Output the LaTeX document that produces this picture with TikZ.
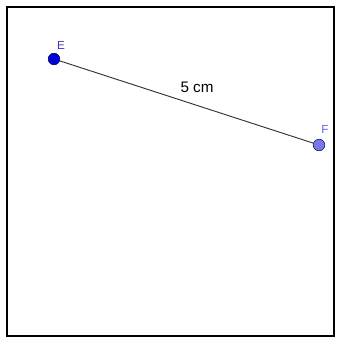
\documentclass[tikz,border=0pt]{standalone}
\usepackage{fontspec}
\setmainfont{Liberation Sans}
\usepackage{tikz,xcolor}
\definecolor{ptdark}{RGB}{0,0,220}
\definecolor{ptlight}{RGB}{120,120,235}
\definecolor{lblblue}{RGB}{60,60,200}
\begin{document}
\begin{tikzpicture}[x=0.03cm,y=-0.03cm]
    \useasboundingbox (0,0) rectangle (339,338);
    \draw[line width=0.055cm] (7,7) rectangle (334,336);

    \tikzstyle{every node}=[draw,circle,inner sep=0pt,minimum size=0.35cm]
    \node[fill=ptdark,draw=black!80!blue](E) at (54,59){};
    \node[fill=ptlight,draw=black!70!blue](F) at (319,145){};

    \draw[black!80,line width=0.8pt](E)--(F);

    \tikzstyle{every node}=[]
    \node[text=lblblue,font=\fontsize{10}{11}\selectfont](lE) at (61,45){E};
    \node[text=ptlight!80!blue,font=\fontsize{10}{11}\selectfont](lF) at (325,129){F};
    \node[font=\fontsize{13}{15}\selectfont](len) at (197,87){5 cm};
  \end{tikzpicture}
\end{document}
